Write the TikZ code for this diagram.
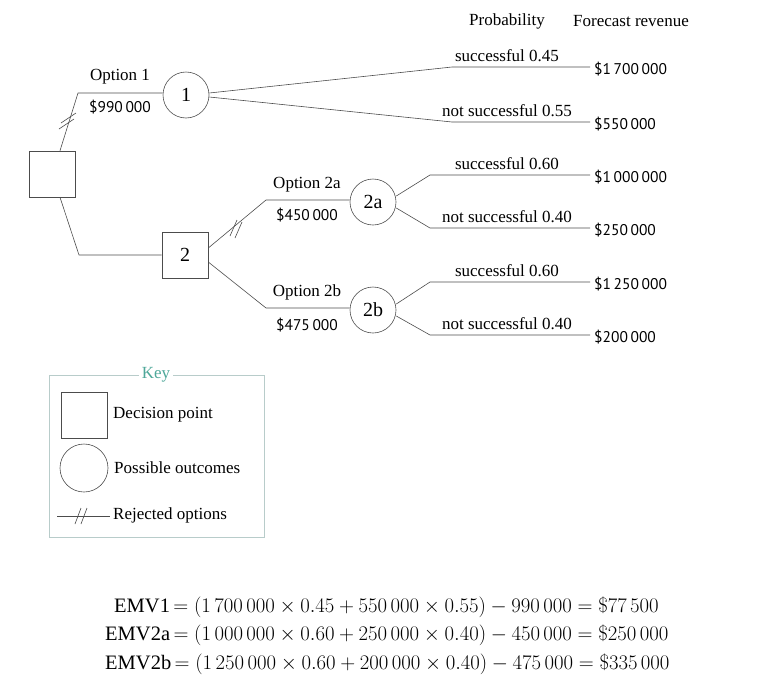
\documentclass[tikz,border=0pt]{standalone}
\usepackage{fontspec}
\setmainfont{Liberation Serif}
\newfontfamily\amtfont{PT Sans}
\usetikzlibrary{positioning}
\definecolor{keyteal}{HTML}{4FA89A}
\definecolor{keyframe}{HTML}{B8CCCA}

\begin{document}
\begin{tikzpicture}[
            x=1pt, y=-1pt,
            line/.style={draw=black!70, line width=0.6pt}, % branch lines
            decision/.style={rectangle, draw=black!70, line width=0.6pt, minimum size=46pt, inner sep=0pt, font=\fontsize{20}{20}\selectfont}, % squares
            chance/.style={circle, draw=black!70, line width=0.6pt, minimum size=46pt, inner sep=0pt, font=\fontsize{20}{20}\selectfont}, % circles
            lbl/.style={font=\fontsize{17}{17}\selectfont, inner sep=1pt},
            amt/.style={font=\amtfont\fontsize{15.5}{16}\selectfont, inner sep=1pt},
            emv/.style={font=\fontsize{20.5}{20.5}\selectfont, inner sep=1pt, anchor=base west},
            rej/.pic={\draw[black!70, line width=0.6pt] (-6,8)--(0,-8) (0,8)--(6,-8);}
            ]
        \useasboundingbox (0,0) rectangle (768,699);

                % Headers
                \node[lbl] (hprob) at (507,21) {Probability};
                \node[lbl] (hrev) at (631,21) {Forecast revenue};

                % Decision and chance nodes
                \node[decision] (d0) at (52,174) {};
                \node[decision] (d2) at (185,255) {2};
                \node[chance] (c1) at (186,95) {1};
                \node[chance] (c2a) at (373,202) {2a};
                \node[chance] (c2b) at (373,310) {2b};

                % Options
                \coordinate (k1) at (78,93);
                \coordinate (k2) at (79,255);
                \coordinate (k2a) at (266,200);
                \coordinate (k2b) at (266,308);
                \draw[line] (d0.north) ++(8,0) -- (k1) -- (c1.west |- k1);
                \draw[line] (d0.south) ++(8,0) -- (k2) -- (d2.west);
                \draw[line] (d2.east) ++(0,-7) -- (k2a) -- (c2a.west |- k2a);
                \draw[line] (d2.east) ++(0,7) -- (k2b) -- (c2b.west |- k2b);
                % rejected marks
                \draw[line] (59,129)--(74,119) (61,123)--(76,113);
                \draw[line] (230,236)--(237,220) (235,238)--(242,222);
                \node[lbl] (o1) at (120,77) {Option 1};
                \node[amt] (m1) at (120,107) {\$990\,000};
                \node[lbl] (o2a) at (307,185) {Option 2a};
                \node[amt] (m2a) at (307,215) {\$450\,000};
                \node[lbl] (o2b) at (307,292) {Option 2b};
                \node[amt] (m2b) at (307,325) {\$475\,000};

                % Outcomes
                \foreach \y/\p/\v in {
                    67/successful 0.45/\$1\,700\,000,
                    122/not successful 0.55/\$550\,000,
                    175/successful 0.60/\$1\,000\,000,
                    228/not successful 0.40/\$250\,000,
                    282/successful 0.60/\$1\,250\,000,
                    335/not successful 0.40/\$200\,000}{
                    \coordinate (e\y) at (590,\y);
                    \node[lbl, anchor=base] (p\y) at (507,\y-6) {\p};
                    \node[amt, anchor=west] (v\y) at (593,\y+2) {\v};
                }
                \draw[line] (c1.east) ++(0,-2) -- (452,67) -- (e67);
                \draw[line] (c1.east) ++(0,2) -- (452,122) -- (e122);
                \draw[line] (c2a.east) ++(0,-6) -- (430,175) -- (e175);
                \draw[line] (c2a.east) ++(0,6) -- (430,228) -- (e228);
                \draw[line] (c2b.east) ++(0,-6) -- (430,282) -- (e282);
                \draw[line] (c2b.east) ++(0,6) -- (430,335) -- (e335);

                % Key
                \draw[keyframe, line width=0.8pt] (49,375) rectangle (264,537);
                \node[fill=white, text=keyteal, font=\fontsize{17}{17}\selectfont] (key) at (156,375) {Key};
                \node[decision] (kd) at (84,415) {};
                \node[chance, minimum size=48pt] (kc) at (84,468) {};
                \coordinate (kl) at (57,516);
                \coordinate (kr) at (110,516);
                \draw[line] (kl) -- (kr);
                \pic at (81,516) {rej};
                \node[lbl, anchor=west] (tkd) at (112,415) {Decision point};
                \node[lbl, anchor=west] (tkc) at (113,468) {Possible outcomes};
                \node[lbl, anchor=west] (tkr) at (112,515) {Rejected options};

                % EMV calculations
                \node[emv] (emv1) at (113,612) {EMV1$\,=(1\,700\,000\times 0.45+550\,000\times 0.55)-990\,000=\$77\,500$};
                \node[emv] (emv2a) at (104,640) {EMV2a$\,=(1\,000\,000\times 0.60+250\,000\times 0.40)-450\,000=\$250\,000$};
                \node[emv] (emv2b) at (104,669) {EMV2b$\,=(1\,250\,000\times 0.60+200\,000\times 0.40)-475\,000=\$335\,000$};

            \end{tikzpicture}
\end{document}
